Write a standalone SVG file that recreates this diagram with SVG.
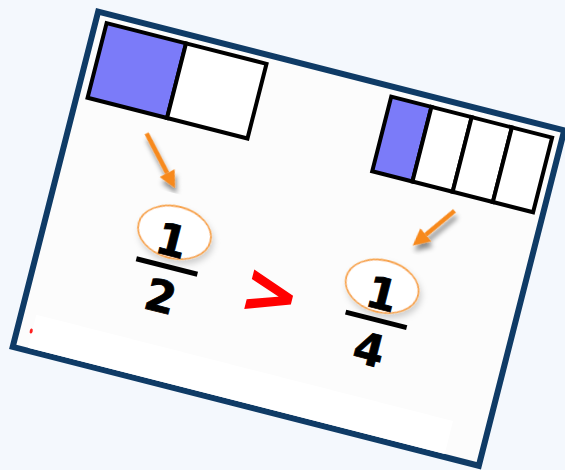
<svg xmlns="http://www.w3.org/2000/svg" width="565" height="470" viewBox="0 0 565 470">
<defs>
<filter id="sh" x="-50%" y="-50%" width="200%" height="200%"><feDropShadow dx="3" dy="5" stdDeviation="2.5" flood-color="#000" flood-opacity="0.45"/></filter>
<filter id="csh" x="-30%" y="-30%" width="160%" height="160%"><feDropShadow dx="3" dy="4" stdDeviation="3" flood-color="#000" flood-opacity="0.18"/></filter>
<marker id="ah" viewBox="0 -9 17 18" markerWidth="17" markerHeight="18" refX="0" refY="0" markerUnits="userSpaceOnUse" orient="auto"><path d="M0,-8.5 L17,0 L0,8.5 Z" fill="#f7891f"/></marker>
</defs>
<style>
.cell{fill:#fff;stroke:#000;stroke-width:4;stroke-linejoin:miter}
.on{fill:#7b7bf9}
.num{font-family:"DejaVu Sans",Verdana,sans-serif;font-weight:bold;font-size:44px;text-anchor:middle;fill:#000;stroke:#000;stroke-width:0.8}
.gt{font-family:"DejaVu Sans",Verdana,sans-serif;font-weight:bold;font-size:68px;text-anchor:middle;fill:#ff0000;stroke:#ff0000;stroke-width:1.5}
.bar{stroke:#000;stroke-width:5}
.ring{fill:#fff;stroke:#f7a34b;stroke-width:1.8}
.arr{stroke:#f7891f;stroke-width:4.5;fill:none}
</style>
<rect width="565" height="470" fill="#f4f8fd"/>
<g transform="translate(96,8) rotate(14.3)">
  <g id="card">
    <rect x="3" y="3" width="481" height="346" fill="#fcfcfc" stroke="#0f3b66" stroke-width="6"/>
    <rect x="18" y="312" width="430" height="34" fill="#ffffff"/>
    <ellipse cx="17" cy="329" rx="1.5" ry="2.5" fill="#ff2020"/>
  </g>
  <g id="half-bar">
    <rect class="cell on" x="14" y="12" width="82" height="77"/>
    <rect class="cell" x="96" y="12" width="83" height="77"/>
  </g>
  <g id="quarter-bar">
    <rect class="cell on" x="308" y="13" width="41.5" height="77"/>
    <rect class="cell" x="349.5" y="13" width="41.5" height="77"/>
    <rect class="cell" x="391" y="13" width="41.5" height="77"/>
    <rect class="cell" x="432.5" y="13" width="41.5" height="77"/>
  </g>
  <g id="connectors" filter="url(#sh)">
    <line class="arr" x1="80" y1="109" x2="109.7" y2="142.3" marker-end="url(#ah)"/>
    <line class="arr" x1="397.5" y1="108" x2="375.6" y2="138.2" marker-end="url(#ah)"/>
  </g>
  <g id="fraction-half">
    <ellipse class="ring" cx="131.5" cy="198" rx="37" ry="26" filter="url(#csh)"/>
    <text class="num" x="131" y="222">1</text>
    <line class="bar" x1="101" y1="233" x2="164" y2="233"/>
    <text class="num" x="134" y="279">2</text>
  </g>
  <g id="greater-than">
    <text class="gt" x="240" y="256">&gt;</text>
  </g>
  <g id="fraction-quarter">
    <ellipse class="ring" cx="346" cy="199" rx="37" ry="26" filter="url(#csh)"/>
    <text class="num" x="348" y="222">1</text>
    <line class="bar" x1="317" y1="233" x2="380" y2="233"/>
    <text class="num" x="349" y="279">4</text>
  </g>
</g>
</svg>
